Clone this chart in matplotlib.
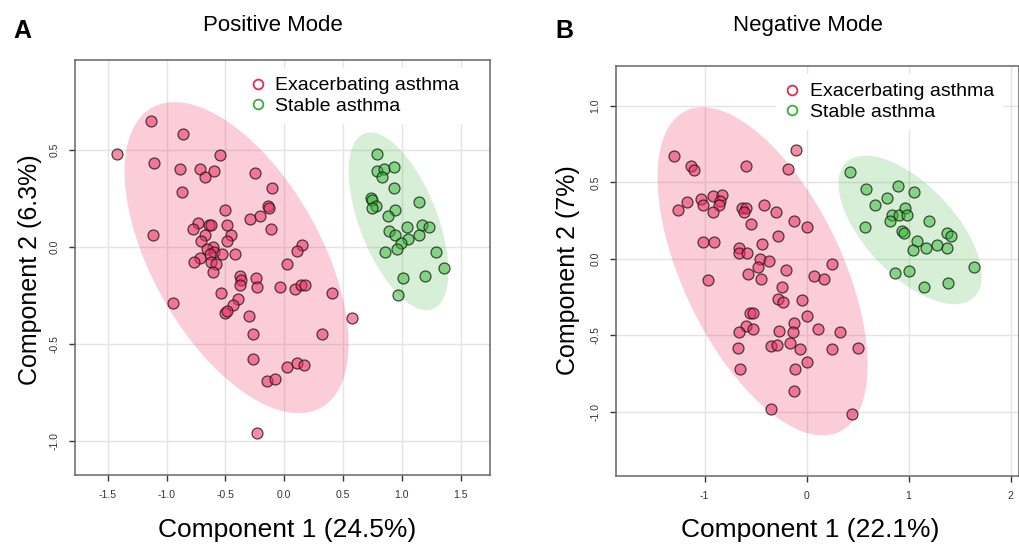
import numpy as np
import matplotlib
matplotlib.use("Agg")
import matplotlib.pyplot as plt
from matplotlib.lines import Line2D

plt.rcParams['font.family'] = ['Liberation Sans', 'DejaVu Sans']
plt.rcParams['axes.unicode_minus'] = False

# ---- Panel A: positive mode scores ----
pos_exac_x = [-1.13, -0.86, -1.42, -1.11, -0.89, -0.55, -0.72, -0.67, -0.60, -0.25,
              -0.87, -0.10, -0.50, -0.14, -0.13, -0.21, -0.29, -1.12, -0.73, -0.78,
              -0.64, -0.62, -0.49, -0.45, -0.11, -0.67, -0.71, -0.49, -0.61, -0.66,
              -0.60, -0.63, -0.53, -0.42, -0.72, -0.77, -0.62, -0.58, -0.61, 0.02,
              -0.38, -0.37, -0.24, -0.04, -0.23, -0.38, -0.54, -0.95, -0.39, -0.44,
              -0.50, -0.49, -0.30, -0.27, -0.27, 0.02, -0.15, -0.08, -0.23, 0.15,
              0.11, 0.09, 0.14, 0.18, 0.41, 0.58, 0.32, 0.11, 0.17]
pos_exac_y = [0.65, 0.58, 0.48, 0.43, 0.40, 0.47, 0.40, 0.36, 0.39, 0.38,
              0.28, 0.30, 0.19, 0.21, 0.20, 0.16, 0.14, 0.06, 0.12, 0.09,
              0.11, 0.11, 0.11, 0.06, 0.09, 0.06, 0.03, 0.03, 0.00, -0.01,
              -0.03, -0.04, -0.04, -0.04, -0.06, -0.08, -0.08, -0.09, -0.13, -0.09,
              -0.15, -0.17, -0.16, -0.21, -0.21, -0.20, -0.24, -0.29, -0.27, -0.30,
              -0.34, -0.33, -0.36, -0.45, -0.58, -0.62, -0.69, -0.68, -0.96, 0.01,
              -0.02, -0.22, -0.20, -0.20, -0.24, -0.37, -0.45, -0.60, -0.61]
pos_stab_x = [0.79, 0.79, 0.85, 0.93, 0.83, 0.93, 0.74, 0.75, 0.78, 0.75,
              1.15, 0.94, 0.88, 1.04, 1.17, 1.23, 0.89, 0.94, 1.15, 1.05,
              0.99, 0.96, 0.86, 1.29, 1.36, 1.20, 1.01, 0.97]
pos_stab_y = [0.48, 0.39, 0.40, 0.41, 0.36, 0.30, 0.25, 0.24, 0.21, 0.20,
              0.23, 0.19, 0.16, 0.10, 0.11, 0.10, 0.08, 0.06, 0.06, 0.04,
              0.02, -0.01, -0.03, -0.03, -0.11, -0.15, -0.16, -0.25]

# ---- Panel B: negative mode scores ----
neg_exac_x = [-1.30, -1.13, -1.10, -0.59, -0.10, -0.18, -1.17, -1.26, -1.03, -1.01,
              -0.92, -0.83, -0.85, -0.86, -0.92, -0.63, -0.59, -0.61, -0.42, -0.30,
              -0.12, 0.00, -0.54, -1.01, -0.91, -0.28, -0.66, -0.66, -0.58, -0.44,
              -0.46, -0.37, -0.48, -0.57, -0.20, -0.97, -0.45, -0.24, -0.28, -0.23,
              -0.04, 0.00, -0.55, -0.52, -0.59, -0.66, -0.52, -0.27, -0.12, -0.13,
              -0.67, -0.35, -0.29, -0.16, -0.06, 0.00, -0.65, -0.11, -0.12, -0.35,
              0.07, 0.17, 0.11, 0.33, 0.25, 0.50, 0.45, 0.25]
neg_exac_y = [0.67, 0.61, 0.58, 0.61, 0.71, 0.59, 0.37, 0.32, 0.39, 0.35,
              0.41, 0.42, 0.38, 0.35, 0.31, 0.33, 0.33, 0.31, 0.35, 0.31,
              0.25, 0.21, 0.23, 0.11, 0.11, 0.15, 0.07, 0.04, 0.04, 0.10,
              0.00, -0.01, -0.05, -0.10, -0.07, -0.14, -0.13, -0.18, -0.26, -0.28,
              -0.27, -0.37, -0.35, -0.35, -0.44, -0.48, -0.46, -0.47, -0.42, -0.48,
              -0.58, -0.57, -0.56, -0.55, -0.59, -0.67, -0.72, -0.72, -0.86, -0.98,
              -0.11, -0.13, -0.46, -0.48, -0.59, -0.58, -1.01, -0.03]
neg_stab_x = [0.43, 0.58, 0.90, 1.05, 0.79, 0.67, 0.84, 0.91, 0.97, 0.99,
              0.82, 1.20, 0.57, 0.94, 0.96, 1.38, 1.42, 1.08, 1.04, 1.17,
              1.28, 1.38, 1.64, 0.87, 1.00, 1.15, 1.39]
neg_stab_y = [0.57, 0.46, 0.48, 0.44, 0.40, 0.35, 0.29, 0.29, 0.33, 0.29,
              0.25, 0.25, 0.21, 0.18, 0.17, 0.17, 0.15, 0.12, 0.06, 0.07,
              0.09, 0.07, -0.05, -0.09, -0.08, -0.18, -0.16]

groups = ['Exacerbating asthma', 'Stable asthma']
var_pos = ['24.5', '6.3']
var_neg = ['22.1', '7']

red_pt = (0.93, 0.18, 0.38, 0.55)
red_ell = (0.93, 0.18, 0.38, 0.24)
green_pt = (0.20, 0.72, 0.20, 0.50)
green_ell = (0.20, 0.70, 0.20, 0.20)
red_leg = '#E8294F'
green_leg = '#38B038'


def conf_ellipse(x, y, level=0.95, n=200):
    # same construction as the ellipse package: centre + t * chol(cov)
    pts = np.column_stack([x, y])
    mu = pts.mean(axis=0)
    cov = np.cov(pts, rowvar=False)
    t = np.sqrt(-2 * np.log(1 - level))
    L = np.linalg.cholesky(cov)
    th = np.linspace(0, 2 * np.pi, n)
    circ = np.vstack([np.cos(th), np.sin(th)])
    e = (L @ circ) * t
    return mu[0] + e[0], mu[1] + e[1]


def draw_panel(ax, ex_x, ex_y, st_x, st_y, xlim, ylim, xticks, xlabels, yticks, ylabels,
               leg_x):
    ax.set_xlim(*xlim)
    ax.set_ylim(*ylim)
    ax.set_axisbelow(True)
    ax.grid(True, color='#E4E4E4', lw=1.0)
    for (gx, gy, fc) in [(ex_x, ex_y, red_ell), (st_x, st_y, green_ell)]:
        ex, ey = conf_ellipse(gx, gy)
        ax.fill(ex, ey, color=fc, lw=0, zorder=1)
    ax.scatter(ex_x, ex_y, s=62, facecolor=red_pt, edgecolor=(0.15, 0.1, 0.1, 0.8),
               lw=0.9, zorder=3)
    ax.scatter(st_x, st_y, s=62, facecolor=green_pt, edgecolor=(0.1, 0.15, 0.1, 0.8),
               lw=0.9, zorder=3)
    ax.set_xticks(xticks)
    ax.set_xticklabels(xlabels)
    ax.set_yticks(yticks)
    ax.set_yticklabels(ylabels, rotation=90, va='center')
    ax.tick_params(labelsize=7.5, colors='#333333', length=4, width=1, pad=7)
    for sp in ax.spines.values():
        sp.set_color('#666666')
        sp.set_linewidth(1.1)
    handles = [Line2D([], [], ls='none', marker='o', mfc='none', mec=c, mew=1.3, ms=7)
               for c in [red_leg, green_leg]]
    ax.legend(handles, groups, loc='upper right', bbox_to_anchor=(leg_x, 0.99),
              fontsize=14, frameon=True, facecolor='white', edgecolor='none',
              framealpha=1, handlelength=0.8, handletextpad=0.5, borderpad=0.45,
              labelspacing=0.15, borderaxespad=0.2)


fig = plt.figure(figsize=(10.2, 5.49), dpi=100)
axA = fig.add_axes([0.0735, 0.1348, 0.4069, 0.7559])
axB = fig.add_axes([0.6036, 0.1330, 0.3954, 0.7468])

draw_panel(axA, pos_exac_x, pos_exac_y, pos_stab_x, pos_stab_y,
           (-1.78, 1.75), (-1.177, 0.962),
           [-1.5, -1.0, -0.5, 0.0, 0.5, 1.0, 1.5],
           ['-1.5', '-1.0', '-0.5', '0.0', '0.5', '1.0', '1.5'],
           [-1.0, -0.5, 0.0, 0.5], ['-1.0', '-0.5', '0.0', '0.5'], 0.957)
draw_panel(axB, neg_exac_x, neg_exac_y, neg_stab_x, neg_stab_y,
           (-1.871, 2.083), (-1.418, 1.261),
           [-1, 0, 1, 2], ['-1', '0', '1', '2'],
           [-1.0, -0.5, 0.0, 0.5, 1.0], ['-1.0', '-0.5', '0.0', '0.5', '1.0'], 0.97)

W, H = 1020, 549
fig.text(13 / W, 1 - 38 / H, 'A', fontsize=18, fontweight='bold', va='baseline')
fig.text(555 / W, 1 - 38 / H, 'B', fontsize=18, fontweight='bold', va='baseline')
fig.text(273 / W, 1 - 31 / H, 'Positive Mode', fontsize=16, ha='center', va='baseline')
fig.text(808 / W, 1 - 31 / H, 'Negative Mode', fontsize=16, ha='center', va='baseline')
fig.text(287 / W, 1 - 537 / H, f'Component 1 ({var_pos[0]}%)', fontsize=19,
         ha='center', va='baseline')
fig.text(810 / W, 1 - 537 / H, f'Component 1 ({var_neg[0]}%)', fontsize=19,
         ha='center', va='baseline')
fig.text(30 / W, 1 - 270 / H, f'Component 2 ({var_pos[1]}%)', fontsize=18,
         ha='center', va='center', rotation=90)
fig.text(568 / W, 1 - 270 / H, f'Component 2 ({var_neg[1]}%)', fontsize=18,
         ha='center', va='center', rotation=90)

fig.savefig('out.png', dpi=100)
